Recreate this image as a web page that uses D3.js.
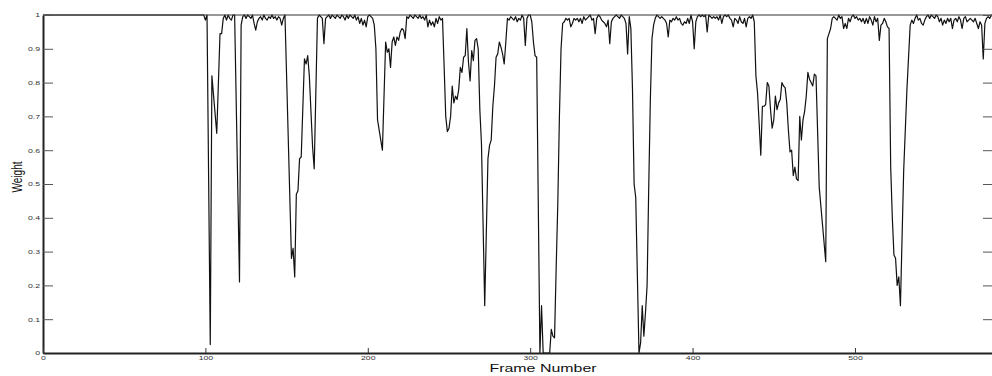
<!DOCTYPE html>
<html>
<head>
<meta charset="utf-8">
<script src="https://cdn.jsdelivr.net/npm/d3@7/dist/d3.min.js"></script>
<style>
  body { margin: 0; background: #fff; }
  svg { display: block; font-family: "Liberation Sans", Arial, sans-serif; }
</style>
</head>
<body>
<svg id="chart" width="992" height="376"></svg>
<script>
// frame numbers (gaps = straight segments)
const frames = [
  0, 99, 100, 101, 103, 104, 107, 109, 110, 111, 112, 113, 114, 115, 116, 117, 118,
  121, 122, 123, 124, 125, 126, 127, 128, 129, 130, 131, 132, 133, 134, 135, 136, 137,
  138, 139, 140, 141, 142, 143, 144, 145, 146, 147, 148, 149,
  153, 154, 155, 156, 157, 158, 159, 161, 162, 163, 164, 166, 167, 169, 170,
  171, 172, 173, 174, 175, 176, 177, 178, 179, 180, 181, 182, 183, 184, 185, 186, 187,
  188, 189, 190, 191, 192, 193, 194, 195, 196, 197, 198, 199, 200, 201, 202, 203,
  204, 205, 206, 207, 208, 209, 211, 212, 213, 214, 215, 216, 217, 218, 219, 220,
  221, 222, 223, 224, 225, 226, 227, 228, 229, 230, 231, 232, 233, 234, 235, 236,
  237, 238, 239, 240, 241, 242, 243, 244, 245, 246, 247, 248, 249, 250, 251, 252,
  253, 254, 255, 256, 257, 258, 259, 260, 261, 262, 263, 264, 265, 266, 267, 268,
  269, 270, 272, 274, 275, 276, 277, 278, 279, 280, 281, 282, 283, 284, 285, 286,
  287, 288, 289, 290, 291, 292, 293, 294, 295, 296, 297, 298, 299, 300, 301, 302,
  303, 304, 306, 307, 308, 309, 310, 311, 312, 313, 314, 315, 316, 317, 318, 319,
  320, 321, 322, 323, 324, 325, 326, 327, 328, 329, 330, 331, 332, 333, 334, 335,
  336, 337, 338, 339, 340, 341, 342, 343, 344, 345, 346, 347, 348, 349, 350, 351,
  352, 353, 354, 355, 356, 357, 358, 359, 360, 361, 362, 363, 364, 365, 367, 368,
  369, 370, 371, 372, 373, 374, 375, 376, 377, 378, 379, 380, 381, 382, 383, 384,
  385, 386, 387, 388, 389, 390, 391, 392, 393, 394, 395, 396, 397, 398, 399, 400,
  401, 402, 403, 404, 405, 406, 407, 408, 409, 410, 411, 412, 413, 414, 415, 416,
  417, 418, 419, 420, 421, 422, 423, 424, 425, 426, 427, 428, 429, 430, 431, 432,
  433, 434, 435, 436, 437, 438, 439, 440, 441, 442, 443, 444, 445, 446, 447, 448,
  449, 450, 451, 452, 453, 454, 455, 456, 457, 458, 459, 460, 461, 462, 463, 464,
  465, 466, 467, 468, 469, 470, 471, 472, 473, 474, 475, 476, 478, 480, 482, 483,
  484, 485, 486, 487, 488, 489, 490, 491, 492, 493, 494, 495, 496, 497, 498, 499,
  500, 501, 502, 503, 504, 505, 506, 507, 508, 509, 510, 511, 512, 513, 514, 515,
  516, 517, 518, 519, 520, 521, 522, 523, 524, 525, 526, 527, 528, 530, 532, 534,
  535, 536, 537, 538, 539, 540, 541, 542, 543, 544, 545, 546, 547, 548, 549, 550,
  551, 552, 553, 554, 555, 556, 557, 558, 559, 560, 561, 562, 563, 564, 565, 566,
  567, 568, 569, 570, 571, 572, 573, 574, 575, 576, 577, 578, 579, 580, 581, 582,
  583, 584, 585
];

const weights = [
  1, 1, 0.985, 1, 0.025, 0.82, 0.65, 0.945, 0.945, 0.99, 1, 0.985, 1, 0.99, 0.985, 1, 1,
  0.21, 0.97, 0.995, 1, 0.99, 1, 0.995, 0.99, 1, 0.975, 0.955, 0.98, 0.99, 0.995, 0.985, 1, 0.99,
  0.985, 0.995, 0.99, 1, 0.99, 0.995, 0.985, 0.995, 0.99, 0.97, 0.99, 1,
  0.28, 0.31, 0.225, 0.47, 0.48, 0.575, 0.58, 0.87, 0.855, 0.88, 0.82, 0.61, 0.545, 0.99, 1,
  0.995, 0.99, 0.915, 0.99, 0.995, 1, 0.99, 1, 0.995, 0.99, 1, 0.995, 0.99, 1, 0.995, 0.985, 1,
  0.99, 1, 0.995, 0.99, 1, 0.985, 0.995, 0.975, 0.99, 0.97, 0.985, 0.965, 0.995, 1, 0.995, 0.99,
  0.97, 0.9, 0.69, 0.66, 0.63, 0.6, 0.92, 0.89, 0.9, 0.845, 0.92, 0.935, 0.91, 0.935, 0.925, 0.95,
  0.96, 0.955, 0.93, 0.995, 0.99, 1, 0.995, 0.99, 1, 0.995, 0.99, 1, 0.99, 0.995, 0.985, 1,
  0.965, 0.985, 0.97, 0.98, 0.965, 0.99, 0.975, 0.995, 0.985, 0.99, 0.85, 0.7, 0.655, 0.665, 0.7, 0.79,
  0.74, 0.76, 0.75, 0.78, 0.845, 0.83, 0.875, 0.88, 0.96, 0.86, 0.805, 0.895, 0.865, 0.925, 0.93, 0.9,
  0.72, 0.62, 0.14, 0.575, 0.615, 0.63, 0.73, 0.79, 0.875, 0.885, 0.92, 0.905, 0.885, 0.855, 0.92, 0.99,
  0.985, 0.995, 0.99, 0.985, 0.995, 0.98, 0.99, 0.985, 1, 0.99, 0.91, 0.99, 1, 1, 0.98, 0.92,
  0.88, 0.875, 0, 0.14, 0, 0, 0, 0, 0, 0.07, 0.05, 0.045, 0.25, 0.44, 0.7, 0.9,
  0.975, 0.98, 0.99, 0.985, 0.99, 0.965, 0.975, 0.99, 0.985, 0.99, 0.98, 0.99, 0.975, 0.995, 0.985, 0.99,
  0.995, 1, 0.985, 0.99, 0.945, 0.99, 1, 0.995, 0.985, 0.98, 0.975, 0.965, 0.985, 0.915, 0.98, 0.99,
  0.995, 1, 0.995, 0.99, 1, 0.995, 0.99, 0.975, 0.885, 0.995, 0.96, 0.78, 0.5, 0.46, 0, 0.03,
  0.14, 0.05, 0.12, 0.2, 0.49, 0.75, 0.93, 0.97, 0.99, 1, 0.995, 0.99, 0.995, 0.99, 0.985, 0.975,
  0.935, 0.985, 0.98, 0.99, 0.985, 0.995, 0.985, 0.99, 0.975, 0.97, 0.98, 0.975, 0.99, 0.975, 1, 0.98,
  0.9, 0.98, 0.995, 1, 0.995, 1, 0.995, 1, 0.95, 1, 0.995, 0.99, 0.995, 0.99, 0.995, 0.985,
  1, 0.975, 0.995, 1, 0.995, 1, 0.99, 0.985, 0.965, 0.99, 0.985, 0.975, 0.995, 0.98, 0.975, 0.99,
  0.965, 0.99, 0.995, 0.99, 1, 0.98, 0.82, 0.77, 0.68, 0.585, 0.73, 0.73, 0.735, 0.8, 0.79, 0.72,
  0.665, 0.69, 0.76, 0.72, 0.74, 0.75, 0.8, 0.79, 0.785, 0.74, 0.66, 0.595, 0.6, 0.525, 0.55, 0.515,
  0.51, 0.7, 0.63, 0.69, 0.715, 0.76, 0.83, 0.81, 0.8, 0.79, 0.825, 0.82, 0.49, 0.38, 0.27, 0.93,
  0.945, 0.96, 0.99, 0.995, 0.99, 0.985, 1, 0.99, 0.995, 0.96, 0.975, 0.96, 0.99, 0.98, 0.995, 1,
  0.99, 0.995, 0.985, 0.99, 0.98, 0.99, 0.975, 0.99, 0.975, 0.995, 0.985, 0.97, 0.995, 0.98, 0.99, 0.925,
  0.97, 0.975, 0.99, 0.98, 0.965, 0.96, 0.55, 0.4, 0.29, 0.28, 0.2, 0.225, 0.14, 0.54, 0.78, 0.97,
  0.985, 0.975, 0.99, 1, 0.985, 0.99, 0.975, 0.97, 0.985, 0.995, 1, 0.99, 1, 0.995, 0.99, 1,
  0.995, 0.98, 0.99, 0.97, 0.985, 0.975, 0.99, 0.98, 0.99, 0.96, 0.985, 0.99, 0.98, 0.995, 0.985, 0.96,
  0.99, 0.995, 0.98, 0.985, 0.99, 0.985, 0.98, 0.99, 0.975, 0.96, 0.98, 0.97, 0.87, 0.975, 0.99, 0.995,
  0.99, 1, 0.995
];

const xTicks = [0, 100, 200, 300, 400, 500];
const yTicks = [0, 0.1, 0.2, 0.3, 0.4, 0.5, 0.6, 0.7, 0.8, 0.9, 1];

const margin = {top: 15, right: -1, bottom: 23, left: 43};
const width = 992, height = 376;
// the figure text is stretched sideways in the source image
const stretch = 1.45;

const svg = d3.select("#chart");

const x = d3.scaleLinear().domain([0, 585]).range([margin.left, width - margin.right]);
const y = d3.scaleLinear().domain([0, 1]).range([height - margin.bottom, margin.top]);

const points = frames.map((f, i) => ({frame: f, weight: weights[i]}));

// data line
const line = d3.line()
  .x(d => x(d.frame))
  .y(d => y(d.weight));

svg.append("path")
  .datum(points)
  .attr("fill", "none")
  .attr("stroke", "#111")
  .attr("stroke-width", 1.2)
  .attr("stroke-linejoin", "round")
  .attr("d", line);

// box: top edge
svg.append("line")
  .attr("x1", x(0)).attr("x2", x(585))
  .attr("y1", y(1)).attr("y2", y(1))
  .attr("stroke", "#333").attr("stroke-width", 1);

// right side ticks, pointing in
svg.append("g")
  .attr("transform", `translate(${x(585)},0)`)
  .call(d3.axisRight(y).tickValues(yTicks).tickSize(-10).tickFormat(""))
  .call(g => g.select(".domain").remove())
  .selectAll(".tick line").attr("stroke", "#555");

// left axis
svg.append("g")
  .attr("transform", `translate(${x(0)},0)`)
  .call(d3.axisLeft(y).tickValues(yTicks).tickSizeInner(-10).tickSizeOuter(0).tickPadding(3)
    .tickFormat(d => String(+d.toFixed(1))))
  .call(g => g.select(".domain").attr("stroke", "#222").attr("stroke-width", 2))
  .call(g => g.selectAll(".tick line").attr("stroke", "#555"))
  .call(g => g.selectAll(".tick text")
    .attr("font-size", 6).attr("fill", "#333")
    .attr("font-family", "Liberation Sans, Arial, sans-serif")
    .attr("x", -3 / stretch)
    .attr("transform", `scale(${stretch},1)`));

// bottom axis
svg.append("g")
  .attr("transform", `translate(0,${y(0)})`)
  .call(d3.axisBottom(x).tickValues(xTicks).tickSizeInner(-5).tickSizeOuter(0).tickPadding(3))
  .call(g => g.select(".domain").attr("stroke", "#222").attr("stroke-width", 2))
  .call(g => g.selectAll(".tick line").attr("stroke", "#333"))
  .call(g => g.selectAll(".tick text")
    .attr("font-size", 6).attr("fill", "#333")
    .attr("font-family", "Liberation Sans, Arial, sans-serif")
    .attr("transform", `scale(${stretch},1)`));

// axis labels
svg.append("text")
  .attr("transform", `translate(17,177) scale(${stretch},1) rotate(-90)`)
  .attr("text-anchor", "middle")
  .attr("dy", "0.35em")
  .attr("font-size", 10)
  .attr("fill", "#111")
  .text("Weight");

svg.append("text")
  .attr("transform", `translate(543,372) scale(${stretch},1)`)
  .attr("text-anchor", "middle")
  .attr("font-size", 11)
  .attr("fill", "#111")
  .text("Frame Number");
</script>
</body>
</html>
